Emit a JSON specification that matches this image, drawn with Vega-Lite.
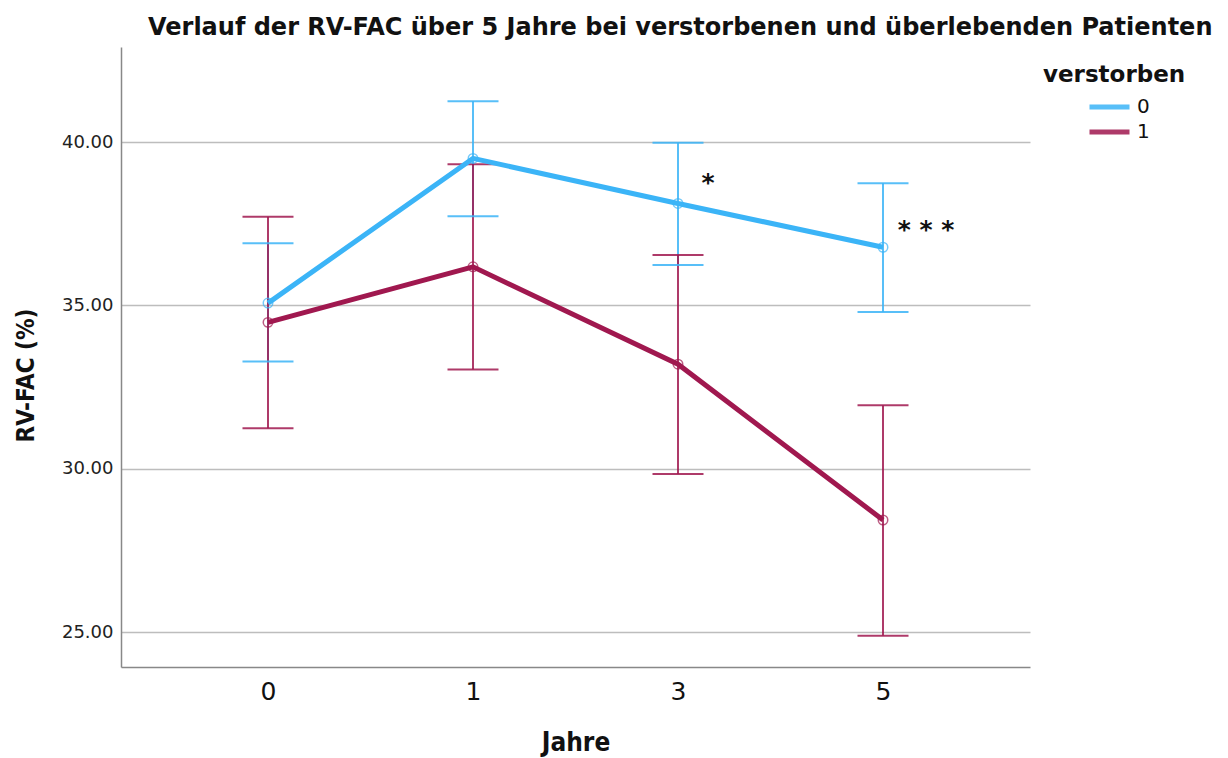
{
  "$schema": "https://vega.github.io/schema/vega-lite/v6.json",
  "autosize": "none",
  "width": 909,
  "height": 620,
  "padding": {"left": 121, "top": 47, "right": 198, "bottom": 91},
  "background": "white",
  "config": {
    "font": "DejaVu Sans",
    "view": {"stroke": null}
  },
  "title": {
    "text": "Verlauf der RV-FAC über 5 Jahre bei verstorbenen und überlebenden Patienten",
    "anchor": "start",
    "frame": "group",
    "dx": 27,
    "offset": 7,
    "fontSize": 24,
    "fontWeight": "bold",
    "color": "#111111"
  },
  "datasets": {
    "stats": [
      {"Jahre": "0", "verstorben": "0", "mean": 35.07, "lo": 33.28, "hi": 36.90},
      {"Jahre": "1", "verstorben": "0", "mean": 39.50, "lo": 37.73, "hi": 41.25},
      {"Jahre": "3", "verstorben": "0", "mean": 38.12, "lo": 36.24, "hi": 39.98},
      {"Jahre": "5", "verstorben": "0", "mean": 36.78, "lo": 34.80, "hi": 38.74},
      {"Jahre": "0", "verstorben": "1", "mean": 34.48, "lo": 31.24, "hi": 37.71},
      {"Jahre": "1", "verstorben": "1", "mean": 36.18, "lo": 33.04, "hi": 39.32},
      {"Jahre": "3", "verstorben": "1", "mean": 33.20, "lo": 29.84, "hi": 36.54},
      {"Jahre": "5", "verstorben": "1", "mean": 28.43, "lo": 24.89, "hi": 31.94}
    ],
    "stars": [
      {"Jahre": "3", "value": 38.75, "label": "*"},
      {"Jahre": "5", "value": 37.3, "label": "* * *"}
    ]
  },
  "layer": [
    {
      "data": {"name": "stats"},
      "layer": [
        {
          "mark": {"type": "rule", "strokeWidth": 2, "opacity": 0.85},
          "encoding": {
            "x": {"field": "Jahre", "type": "ordinal"},
            "y": {"field": "lo", "type": "quantitative"},
            "y2": {"field": "hi"},
            "color": {"field": "verstorben", "type": "nominal"}
          }
        },
        {
          "mark": {"type": "tick", "thickness": 2, "size": 51, "orient": "horizontal", "opacity": 0.85},
          "encoding": {
            "x": {"field": "Jahre", "type": "ordinal"},
            "y": {"field": "lo", "type": "quantitative"},
            "color": {"field": "verstorben", "type": "nominal"}
          }
        },
        {
          "mark": {"type": "tick", "thickness": 2, "size": 51, "orient": "horizontal", "opacity": 0.85},
          "encoding": {
            "x": {"field": "Jahre", "type": "ordinal"},
            "y": {"field": "hi", "type": "quantitative"},
            "color": {"field": "verstorben", "type": "nominal"}
          }
        },
        {
          "mark": {"type": "line", "strokeWidth": 5},
          "encoding": {
            "x": {"field": "Jahre", "type": "ordinal"},
            "y": {"field": "mean", "type": "quantitative"},
            "color": {"field": "verstorben", "type": "nominal"}
          }
        },
        {
          "mark": {"type": "point", "shape": "circle", "filled": false, "size": 90, "strokeWidth": 1.5},
          "encoding": {
            "x": {"field": "Jahre", "type": "ordinal"},
            "y": {"field": "mean", "type": "quantitative"},
            "color": {"field": "verstorben", "type": "nominal"}
          }
        }
      ]
    },
    {
      "data": {"name": "stars"},
      "transform": [{"filter": "datum.Jahre === '3'"}],
      "mark": {"type": "text", "fontSize": 25, "fontWeight": "bold", "baseline": "middle", "dx": 30},
      "encoding": {
        "x": {"field": "Jahre", "type": "ordinal"},
        "y": {"field": "value", "type": "quantitative"},
        "text": {"field": "label"},
        "color": {"value": "#111111"}
      }
    },
    {
      "data": {"name": "stars"},
      "transform": [{"filter": "datum.Jahre === '5'"}],
      "mark": {"type": "text", "fontSize": 25, "fontWeight": "bold", "baseline": "middle", "dx": 43},
      "encoding": {
        "x": {"field": "Jahre", "type": "ordinal"},
        "y": {"field": "value", "type": "quantitative"},
        "text": {"field": "label"},
        "color": {"value": "#111111"}
      }
    }
  ],
  "encoding": {
    "x": {
      "field": "Jahre",
      "type": "ordinal",
      "scale": {"type": "point", "padding": 0.717, "domain": ["0", "1", "3", "5"]},
      "axis": {
        "title": "Jahre",
        "titleFont": "DejaVu Sans Condensed",
        "titleFontSize": 26,
        "titleFontWeight": "bold",
        "titleColor": "#111111",
        "titlePadding": 25,
        "labelAngle": 0,
        "labelFontSize": 25,
        "labelColor": "#111111",
        "labelPadding": 12,
        "ticks": false,
        "grid": false,
        "domainColor": "#888888",
        "domainWidth": 1.5
      }
    },
    "y": {
      "type": "quantitative",
      "scale": {"domain": [23.93, 42.91], "nice": false, "zero": false},
      "axis": {
        "title": "RV-FAC (%)",
        "titleFont": "DejaVu Sans Condensed",
        "titleFontSize": 24,
        "titleFontWeight": "bold",
        "titleColor": "#111111",
        "titlePadding": 23,
        "titleY": 328,
        "values": [25, 30, 35, 40],
        "format": ".2f",
        "labelFontSize": 18,
        "labelColor": "#222222",
        "labelPadding": 8,
        "ticks": false,
        "grid": true,
        "gridColor": "#bdbdbd",
        "gridWidth": 1.5,
        "domainColor": "#888888",
        "domainWidth": 1.5
      }
    },
    "color": {
      "field": "verstorben",
      "type": "nominal",
      "scale": {"domain": ["0", "1"], "range": ["#3bb4f7", "#a0184f"]},
      "legend": {
        "title": "verstorben",
        "orient": "none",
        "legendX": 922,
        "legendY": 17,
        "titleFontSize": 23,
        "titleFontWeight": "bold",
        "titleColor": "#111111",
        "titlePadding": 10,
        "labelFontSize": 20,
        "labelColor": "#111111",
        "labelOffset": 5,
        "symbolType": "stroke",
        "symbolSize": 1600,
        "symbolStrokeWidth": 5,
        "symbolOffset": 44,
        "clipHeight": 20,
        "rowPadding": 5,
        "offset": 0
      }
    }
  }
}
